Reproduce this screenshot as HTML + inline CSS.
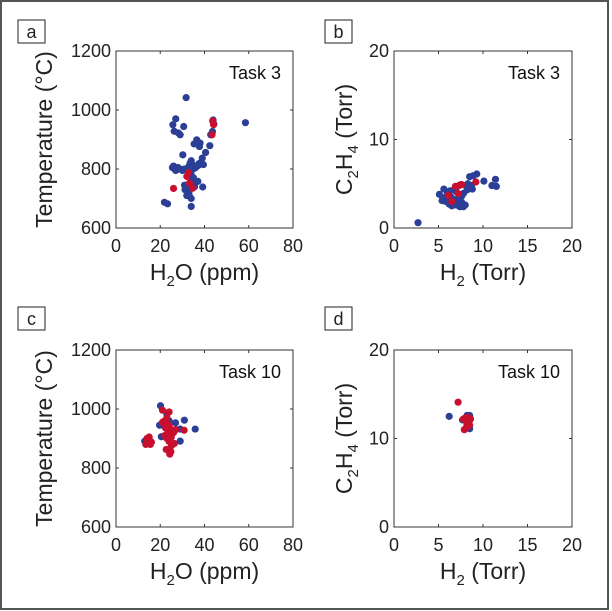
<!DOCTYPE html>
<html><head><meta charset="utf-8"><style>
body{margin:0;background:#fff}
svg{display:block;font-family:"Liberation Sans",sans-serif}
</style></head><body>
<svg id="fig" width="612" height="611" viewBox="0 0 612 611">
<rect x="1" y="1" width="607" height="608" fill="#fff" stroke="#555" stroke-width="2"/>
</svg>
<script>
const xTicksA=[0,20,40,60,80], yTicksA=[600,800,1000,1200];
const xTicksB=[0,5,10,15,20], yTicksB=[0,10,20];
const aBlue=[[31.7,1042],[27,970],[25.7,950],[30.6,944],[26.3,928],[28.2,922],[29,916],[58.5,957],[43.9,966],[44.2,953],[43.6,927],[42.8,916],[42.4,879],[36.5,899],[38,888],[35.3,885],[37.7,876],[40.5,856],[39,837],[38,820],[37.2,812],[39.5,815],[30.2,848],[26,810],[26.5,800],[27,795],[28,805],[29,800],[30,795],[31,800],[32,798],[33,810],[33.5,820],[34,828],[34.5,815],[35,800],[33,790],[34,780],[35,770],[34,760],[33,750],[31,745],[32,735],[33,725],[34,740],[35,750],[36,755],[37,758],[35.5,740],[32,710],[33,715],[34,700],[32.7,713],[31.2,730],[39.2,739],[21.9,687],[23.3,682],[34,673],[25.5,805],[27.5,798],[36,805],[37.5,818]];
const aRed=[[26,734],[32,775],[32.8,788],[33.2,752],[34.7,735],[43.7,963],[44.1,950],[43.4,916]];
const bBlue=[[2.7,0.6],[8.5,5.8],[8.9,5.9],[9.3,6.1],[10.1,5.3],[11.4,5.5],[11,4.8],[11.5,4.7],[5.6,4.4],[5.1,3.8],[5.4,3.1],[5.8,3.0],[6.2,2.7],[6.5,2.5],[7,2.6],[7.4,2.4],[7.8,2.4],[7.6,2.9],[6.8,3.2],[6.4,3.5],[7.2,3.3],[7.6,3.6],[7.8,3.9],[8.2,4.3],[8.5,4.5],[8.8,4.4],[8.1,4.8],[7.5,4.9],[6.8,4.4],[6.3,4.2],[6,3.9],[7,4.1],[5.8,3.5],[6.6,2.9],[7.1,2.8],[8,2.6],[8.7,4.8],[8.3,5.0]];
const bRed=[[9.2,5.2],[6.9,4.7],[7.3,4.8],[7.6,4.9],[6.1,3.7],[7.2,3.9],[6.5,3.0]];
const cBlue=[[20.1,1011],[23,982],[26.9,953],[30.9,962],[35.8,932],[29,932],[19.7,945],[20.5,906],[29,891],[13,891],[24,960],[22,940]];
const cRed=[[21,996],[24,990],[22,960],[23,950],[24,945],[22.5,935],[23.5,925],[25,930],[24,915],[22,910],[23,900],[25,905],[26,920],[27,930],[24,890],[26.4,883],[25,875],[30.8,928],[14,900],[15,895],[14.5,885],[15.5,880],[16,888],[13.5,880],[15,905],[22.7,863],[24.8,855],[24.3,847],[22,950],[21,955],[23,970]];
const dBlue=[[6.2,12.5],[8.5,12.6],[8.5,11.1],[7.7,12.1],[8.2,12.6]];
const dRed=[[7.2,14.1],[8,12.3],[8.3,12.4],[8.6,12.2],[8.4,11.9],[8.2,11.6],[8.5,11.5],[8.1,11.2],[7.9,11.0],[8.4,11.8],[7.8,12.2]];

const NS="http://www.w3.org/2000/svg", svg=document.getElementById('fig');
function mk(tag,attrs,parent,text){const e=document.createElementNS(NS,tag);for(const k in attrs)e.setAttribute(k,attrs[k]);if(text!==undefined)e.textContent=text;(parent||svg).appendChild(e);return e;}

function panel(o){
  const g=mk('g',{});
  
  
  const L=o.x0,R=o.x1,T=o.y0,B=o.y1;
  const sx=v=>L+(v-o.xmin)/(o.xmax-o.xmin)*(R-L);
  const sy=v=>B-(v-o.ymin)/(o.ymax-o.ymin)*(B-T);
  const lb=mk('rect',{x:o.bx,y:o.by,width:27,height:23,fill:'#fff',stroke:'#222','stroke-width':1},g);
  
  
  const lt=mk('text',{x:o.bx+13.5,y:o.by+18,'font-size':18,'text-anchor':'middle',fill:'#222'},g,o.letter);
  
  
  const fr=mk('rect',{x:L,y:T,width:R-L,height:B-T,fill:'none',stroke:'#333','stroke-width':1},g);
  
  
  o.xt.forEach(v=>{const x=sx(v);
    mk('line',{x1:x,y1:B,x2:x,y2:B-3,stroke:'#333'},g);mk('line',{x1:x,y1:T,x2:x,y2:T+3,stroke:'#333'},g);
    const t=mk('text',{x:x,y:B+24,'font-size':18,'text-anchor':'middle',fill:'#222'},g,String(v));
    
    });
  o.yt.forEach(v=>{const y=sy(v);
    mk('line',{x1:L,y1:y,x2:L+3,y2:y,stroke:'#333'},g);mk('line',{x1:R,y1:y,x2:R-3,y2:y,stroke:'#333'},g);
    const t=mk('text',{x:L-5,y:y+6,'font-size':18,'text-anchor':'end',fill:'#222'},g,String(v));
    
    });
  const tk=mk('text',{x:R-12,y:T+28,'font-size':18,'text-anchor':'end',fill:'#111'},g,o.task);
  
  
  const xa=mk('text',{x:(L+R)/2,y:B+52,'font-size':23,'text-anchor':'middle',fill:'#222'},g);
  xa.innerHTML=o.xl;
  
  
  const ya=mk('text',{x:0,y:0,'font-size':23,'text-anchor':'middle',fill:'#222',transform:`translate(${o.yax},${(T+B)/2}) rotate(-90)`},g);
  ya.innerHTML=o.yl;
  
  
  o.blue.forEach(p=>{const c=mk('circle',{cx:sx(p[0]),cy:sy(p[1]),r:3.6,fill:'#2b3f96'},g);
    
    });
  o.red.forEach(p=>{const c=mk('circle',{cx:sx(p[0]),cy:sy(p[1]),r:3.6,fill:'#c8102e'},g);
    
    });
}
const tempL='Temperature (°C)', h2o='H<tspan dy="6" font-size="15">2</tspan><tspan dy="-6">O (ppm)</tspan>';
const c2h4='C<tspan dy="6" font-size="15">2</tspan><tspan dy="-6">H</tspan><tspan dy="6" font-size="15">4</tspan><tspan dy="-6"> (Torr)</tspan>';
const h2='H<tspan dy="6" font-size="15">2</tspan><tspan dy="-6"> (Torr)</tspan>';
panel({letter:'a',task:'Task 3',x0:116,x1:293,y0:51,y1:228,xmin:0,xmax:80,ymin:600,ymax:1200,xt:xTicksA,yt:yTicksA,bx:18,by:20,xl:h2o,yl:tempL,yax:52,blue:aBlue,red:aRed});
panel({letter:'b',task:'Task 3',x0:394,x1:572,y0:51,y1:228,xmin:0,xmax:20,ymin:0,ymax:20,xt:xTicksB,yt:yTicksB,bx:325,by:20,xl:h2,yl:c2h4,yax:352,blue:bBlue,red:bRed});
panel({letter:'c',task:'Task 10',x0:116,x1:293,y0:350,y1:527,xmin:0,xmax:80,ymin:600,ymax:1200,xt:xTicksA,yt:yTicksA,bx:18,by:307,xl:h2o,yl:tempL,yax:52,blue:cBlue,red:cRed});
panel({letter:'d',task:'Task 10',x0:394,x1:572,y0:350,y1:527,xmin:0,xmax:20,ymin:0,ymax:20,xt:xTicksB,yt:yTicksB,bx:325,by:307,xl:h2,yl:c2h4,yax:352,blue:dBlue,red:dRed});
</script>
</body></html>
